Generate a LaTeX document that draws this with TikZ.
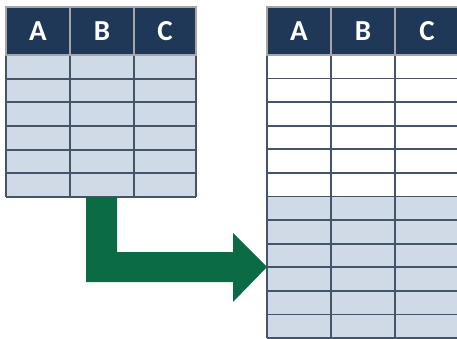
\documentclass[tikz,border=0pt]{standalone}
\usepackage{fontspec}
\setmainfont{Carlito}
\usepackage{xcolor}
\usepackage{tikz}

\definecolor{navy}{HTML}{1F3858}
\definecolor{rowblue}{HTML}{D0D9E6}
\definecolor{gridgray}{HTML}{44546A}
\definecolor{arrowgreen}{HTML}{0A6B45}

\begin{document}
\begin{tikzpicture}[x=1pt,y=-1pt,
  hdr/.style={rectangle,fill=navy,draw=gray!70,line width=1.2pt,
    minimum width=64pt,minimum height=48pt,inner sep=0pt,
    text=white,font=\fontsize{29}{29}\selectfont\bfseries}]
  \useasboundingbox (0,0) rectangle (457,339);

  % left table
  \fill[rowblue] (6,55) rectangle (196,197);
  \foreach \y in {55,78.7,102.3,126,149.7,173.3,197}
    \draw[gridgray,line width=1.8pt] (6,\y) -- (196,\y);
  \foreach \x in {6,70,134,196}
    \draw[gridgray,line width=1.8pt] (\x,55) -- (\x,197);
  \node[hdr] (lA) at (38,31)  {A};
  \node[hdr] (lB) at (102,31) {B};
  \node[hdr,minimum width=62pt] (lC) at (165,31) {C};

  % right table
  \fill[rowblue] (267,196.5) rectangle (459,338);
  \foreach \y in {55,78.6,102.2,125.8,149.3,172.9,196.5,220.1,243.7,267.3,290.8,314.4,338}
    \draw[gridgray,line width=1.8pt] (267,\y) -- (459,\y);
  \foreach \x in {267,331,395}
    \draw[gridgray,line width=1.8pt] (\x,55) -- (\x,338);
  \node[hdr] (rA) at (299,31) {A};
  \node[hdr] (rB) at (363,31) {B};
  \node[hdr] (rC) at (427,31) {C};

  % arrow
  \coordinate (from) at (86,197);
  \coordinate (tip)  at (267,267);
  \fill[arrowgreen] (from) -- ++(31,0) |- (233,252) -- (233,233) -- (tip)
    -- (233,302) -- (233,282) -| cycle;
\end{tikzpicture}
\end{document}
